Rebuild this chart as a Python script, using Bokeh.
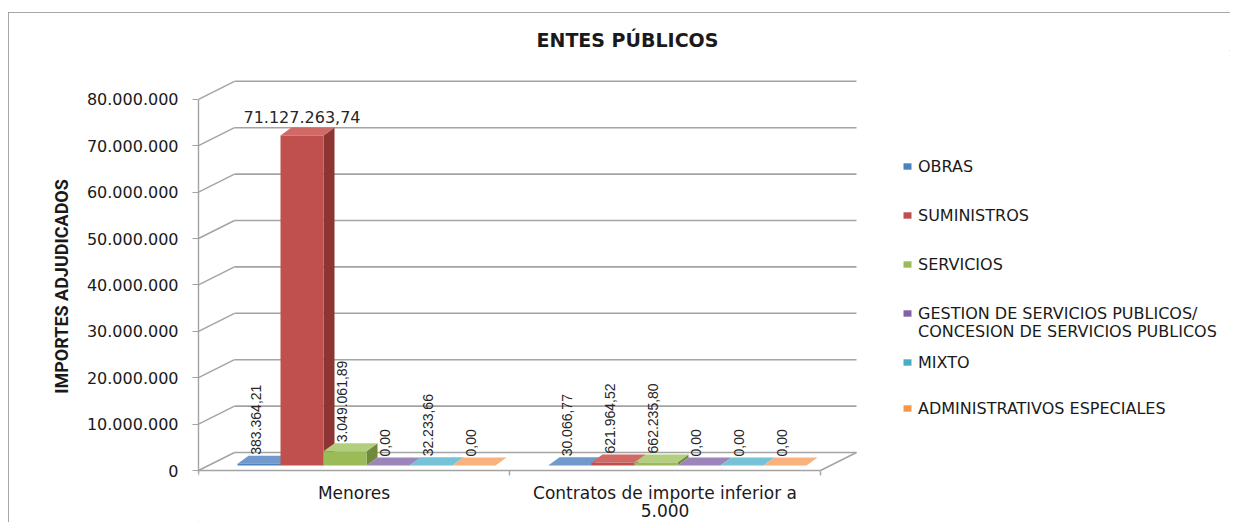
import math
from bokeh.plotting import figure
from bokeh.models import (ColumnDataSource, Range1d, FixedTicker, Legend, LegendItem)
from bokeh.embed import file_html
from bokeh.resources import INLINE
from bokeh.core.properties import value

# ---------------- data ----------------
categories = ["Menores", "Contratos de importe inferior a\n5.000"]
series = ["OBRAS", "SUMINISTROS", "SERVICIOS",
          "GESTION DE SERVICIOS PUBLICOS/\nCONCESION DE SERVICIOS PUBLICOS",
          "MIXTO", "ADMINISTRATIVOS ESPECIALES"]
obras = [383364.21, 30066.77]
suministros = [71127263.74, 621964.52]
servicios = [3049061.89, 662235.80]
gestion = [0.00, 0.00]
mixto = [32233.66, 0.00]
administrativos = [0.00, 0.00]
y_ticks = [0, 10000000, 20000000, 30000000, 40000000, 50000000, 60000000, 70000000, 80000000]
y_tick_labels = ["0", "10.000.000", "20.000.000", "30.000.000", "40.000.000",
                 "50.000.000", "60.000.000", "70.000.000", "80.000.000"]
title_text = "ENTES PÚBLICOS"
y_title = "IMPORTES ADJUDICADOS"

values = [obras, suministros, servicios, gestion, mixto, administrativos]
front_colors = ["#4F81BD", "#C0504D", "#9BBB59", "#8064A2", "#4BACC6", "#F79646"]
side_colors = ["#37608F", "#8C3533", "#6E8A3A", "#5B4679", "#2F8299", "#BF6D2A"]
top_colors = ["#7199CC", "#CF6A67", "#B4CE80", "#9C85BA", "#76C3D8", "#F9B27D"]

# ---------------- geometry ----------------
FIG_W, FIG_H = 1222, 510          # chart box (page 8..1230 x 12..522)
PAGE_X, PAGE_Y = 8, 12
FRAME_L = 190                      # frame left inside the figure
FRAME_T = 38                       # frame top inside the figure (title above)
FRAME_W, FRAME_H = FIG_W - FRAME_L, FIG_H - FRAME_T
ZERO_PAGE_Y = 470                  # page y of the value 0 on the front edge
AXIS_PAGE_X = PAGE_X + FRAME_L
FRAME_TOP_PAGE = PAGE_Y + FRAME_T
PX_X = 311.0                       # px per category unit
PX_Y = 4.64e-6                     # px per euro
X0 = 0.5
X1 = X0 + FRAME_W / PX_X
Y1 = (ZERO_PAGE_Y - FRAME_TOP_PAGE) / PX_Y
Y0 = Y1 - FRAME_H / PX_Y

DX, DY = 36 / PX_X, 18 / PX_Y          # wall depth
BW = 43 / PX_X                          # bar width
BDX, BDY = 11 / PX_X, 8 / PX_Y          # bar depth
OX, OY = (DX - BDX) / 2, (DY - BDY) / 2
FLOOR_R = len(categories) + 0.5

SANS = "DejaVu Sans"
LAB = "Liberation Sans"

p = figure(width=FIG_W, height=FIG_H, x_range=Range1d(X0, X1), y_range=Range1d(Y0, Y1),
           output_backend="svg", toolbar_location=None,
           min_border_left=FRAME_L, min_border_right=0, min_border_top=FRAME_T, min_border_bottom=0)
p.xgrid.visible = False
p.ygrid.visible = False
p.xaxis.visible = False
p.outline_line_color = None
p.background_fill_color = "white"
p.border_fill_color = "white"
p.styles = {"margin-left": f"{PAGE_X}px", "margin-top": f"{PAGE_Y}px",
            "outline": "1px solid #8a8a8a", "outline-offset": "-1px"}

# ---------------- title ----------------
p.title.text = title_text
p.title.align = "left"
p.title.offset = 536 - AXIS_PAGE_X
p.title.standoff = 0
p.title.text_font = SANS
p.title.text_font_style = "bold"
p.title.text_font_size = "19px"
p.title.text_color = "#1a1a1a"

GRID = "#a3a3a3"
# back wall gridlines and left wall
p.segment(x0=[X0 + DX] * len(y_ticks), y0=[t + DY for t in y_ticks],
          x1=[FLOOR_R + DX] * len(y_ticks), y1=[t + DY for t in y_ticks],
          line_color=GRID, line_width=1.6)
p.segment(x0=[X0] * len(y_ticks), y0=y_ticks,
          x1=[X0 + DX] * len(y_ticks), y1=[t + DY for t in y_ticks],
          line_color=GRID, line_width=1.4)
# floor front and right edge
p.segment(x0=[X0, FLOOR_R], y0=[0, 0], x1=[FLOOR_R, FLOOR_R + DX], y1=[0, DY],
          line_color=GRID, line_width=1.4)
# category boundary ticks
bounds_x = [i + 0.5 for i in range(len(categories) + 1)]
p.segment(x0=bounds_x, y0=[0] * len(bounds_x), x1=bounds_x, y1=[-5 / PX_Y] * len(bounds_x),
          line_color=GRID, line_width=1.4)

# ---------------- bars ----------------
lefts, rights, bottoms, tops, fc = [], [], [], [], []
side_xs, side_ys, sc = [], [], []
top_xs, top_ys, tc = [], [], []
lab_v, lab_h = {"x": [], "y": [], "t": []}, {"x": [], "y": [], "t": []}
n = len(series)
vmax = max(max(v) for v in values)


def es(v):
    s = f"{v:,.2f}"
    return s.replace(",", "X").replace(".", ",").replace("X", ".")


for i in range(len(categories)):
    c = i + 1
    for j in range(n):
        v = values[j][i]
        l = c + (j - n / 2) * BW + OX
        r = l + BW
        b = OY
        t = v + OY
        lefts.append(l); rights.append(r); bottoms.append(b); tops.append(t)
        fc.append(front_colors[j])
        side_xs.append([r, r + BDX, r + BDX, r]); side_ys.append([b, b + BDY, t + BDY, t])
        sc.append(side_colors[j])
        top_xs.append([l, r, r + BDX, l + BDX]); top_ys.append([t, t, t + BDY, t + BDY])
        tc.append(top_colors[j])
        if v > vmax * 0.5:
            lab_h["x"].append(l + BW / 2); lab_h["y"].append(t + BDY); lab_h["t"].append(es(v))
        else:
            lab_v["x"].append(l + BW / 2 - BDX / 4); lab_v["y"].append(t + BDY); lab_v["t"].append(es(v))

p.patches(xs=side_xs, ys=side_ys, fill_color=sc, line_color=None)
p.patches(xs=top_xs, ys=top_ys, fill_color=tc, line_color=None)
src_front = ColumnDataSource(dict(left=lefts, right=rights, bottom=bottoms, top=tops, color=fc))
front = p.quad(left="left", right="right", bottom="bottom", top="top", fill_color="color",
               line_color=None, source=src_front)

p.text(x="x", y="y", text="t", source=ColumnDataSource(lab_v), angle=math.pi / 2,
       text_align="left", text_baseline="middle", y_offset=-1,
       text_font=value(LAB), text_font_size="14px", text_color="#262626")
p.text(x="x", y="y", text="t", source=ColumnDataSource(lab_h), angle=0,
       text_align="center", text_baseline="bottom", y_offset=-4,
       text_font=value(SANS), text_font_size="16px", text_color="#262626")

# category labels under the floor
p.text(x=[i + 1 for i in range(len(categories))], y=[0] * len(categories), text=categories,
       text_align="center", text_baseline="top", y_offset=12, text_line_height=0.9,
       text_font=value(SANS), text_font_size="17px", text_color="#1a1a1a")

# ---------------- y axis ----------------
ya = p.yaxis[0]
ya.ticker = FixedTicker(ticks=y_ticks)
ya.major_label_overrides = {t: lab for t, lab in zip(y_ticks, y_tick_labels)}
ya.major_tick_out = 6
ya.major_tick_in = 0
ya.minor_tick_line_color = None
ya.axis_line_color = GRID
ya.major_tick_line_color = GRID
ya.axis_line_width = 1.4
ya.bounds = (-0.7e6, y_ticks[-1])
ya.major_label_text_font = SANS
ya.major_label_text_font_size = "16px"
ya.major_label_text_color = "#1a1a1a"
ya.major_label_standoff = 14
ya.axis_label = y_title
ya.axis_label_text_font = "Roboto"
ya.axis_label_text_font_style = "bold"
ya.axis_label_text_font_size = "18px"
ya.axis_label_text_color = "#1a1a1a"
ya.axis_label_standoff = 12

# ---------------- legend ----------------
dummy = p.quad(left=[], right=[], bottom=[], top=[], fill_alpha=0, line_alpha=0)
leg_kw = dict(glyph_width=10, glyph_height=8, label_standoff=6, padding=0, margin=0,
              border_line_color=None, background_fill_alpha=0, label_height=20,
              label_text_font=SANS, label_text_font_size="16px", label_text_color="#1a1a1a")
FRAME_BOTTOM_PAGE = PAGE_Y + FIG_H
LEG_X = 902 - AXIS_PAGE_X
names1 = series[:3] + [series[3].split("\n")[0]]
items1 = [LegendItem(label=nm, renderers=[front], index=k) for k, nm in enumerate(names1)]
items2 = [LegendItem(label=series[3].split("\n")[1], renderers=[dummy])]
items3 = [LegendItem(label=series[k], renderers=[front], index=k) for k in (4, 5)]
p.add_layout(Legend(items=items1, location=(LEG_X, FRAME_BOTTOM_PAGE - 323), spacing=29, **leg_kw))
p.add_layout(Legend(items=items2, location=(LEG_X, FRAME_BOTTOM_PAGE - 341), spacing=0, **leg_kw))
p.add_layout(Legend(items=items3, location=(LEG_X, FRAME_BOTTOM_PAGE - 418), spacing=26, **leg_kw))

open("out.html", "w").write(file_html(p, INLINE))
